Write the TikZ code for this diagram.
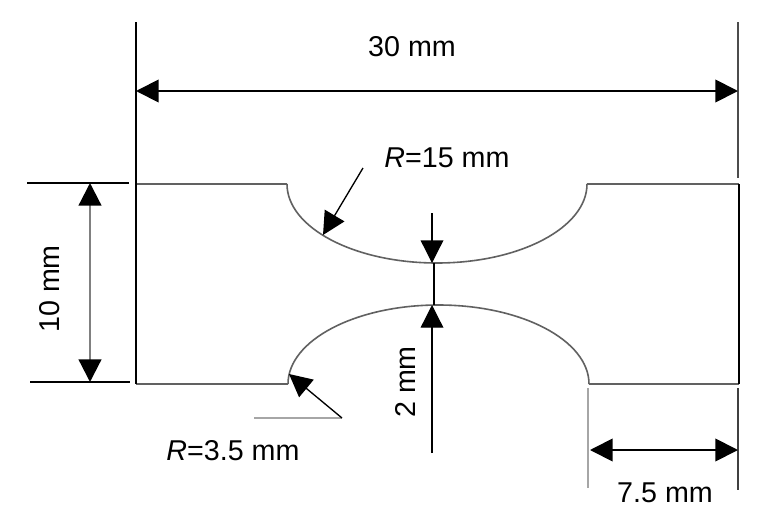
\documentclass[tikz,border=0pt]{standalone}
\usepackage{fontspec}
\setmainfont{Liberation Sans}
\usetikzlibrary{arrows.meta}
\tikzset{
  dimline/.style={line width=1.4pt,black,{Triangle[length=17pt,width=17pt]}-{Triangle[length=17pt,width=17pt]}},
  greydim/.style={line width=1.7pt,black!50,{Triangle[length=17pt,width=17pt,color=black]}-{Triangle[length=17pt,width=17pt,color=black]}},
  leader/.style={line width=1pt,black,-{Triangle[length=17pt,width=17pt]}},
  outline/.style={line width=1.2pt,black!62},
  extline/.style={line width=1.3pt,black},
  greyline/.style={line width=1.7pt,black!35},
  lbl/.style={inner sep=0pt,font=\fontsize{21.5pt}{25pt}\selectfont}
}
\begin{document}
\begin{tikzpicture}[x=0.75pt,y=-0.75pt]
\useasboundingbox (0,0) rectangle (768,518);
\fill[white] (0,0) rectangle (768,518);
% outline
\draw[outline] (136,184) -- (287,184);
\draw[outline] (587,184) -- (739,184);
\draw[outline,line width=1.7pt] (136,384) -- (288,384);
\draw[outline,line width=1.7pt] (589,384) -- (739,384);
\draw[extline] (136,22) -- (136,384);
\draw[extline,black!70] (738,22) -- (738,178);
\draw[extline] (739,184) -- (739,384);
\draw[outline] (287,184) arc[start angle=180,end angle=0,x radius=150,y radius=79];
\draw[outline] (288,384) arc[start angle=180,end angle=360,x radius=150.5,y radius=79];
% coordinates
\coordinate (wl) at (136,91); \coordinate (wr) at (738,91);
\coordinate (hTop) at (90,183); \coordinate (hBot) at (90,382);
\coordinate (r15a) at (363,168); \coordinate (r15b) at (323,235);
\coordinate (upA) at (432,213); \coordinate (upB) at (432,263);
\coordinate (loA) at (432,453); \coordinate (loB) at (432,305);
\coordinate (r35s) at (254,418); \coordinate (r35k) at (342,418); \coordinate (r35e) at (289,374);
\coordinate (sl) at (590,450); \coordinate (sr) at (738,450);
% extensions
\draw[extline] (27,183) -- (129,183);
\draw[extline] (30,382) -- (130,382);
\draw[greyline] (588,388) -- (588,488);
\draw[extline,black!75] (738,388) -- (738,490);
\draw[extline] (434,263) -- (434,305);
% dims
\draw[dimline] (wl) -- (wr);
\draw[greydim] (hTop) -- (hBot);
\draw[dimline] (sl) -- (sr);
\draw[leader] (r15a) -- (r15b);
\draw[leader] (upA) -- (upB);
\draw[leader] (loA) -- (loB);
\draw[greyline] (r35s) -- (r35k);
\draw[leader] (r35k) -- (r35e);
% labels
\node[lbl] (t30) at (412,47) {30 mm};
\node[lbl] (t10) at (50,289) [rotate=90] {10 mm};
\node[lbl] (t2) at (405,382) [rotate=90] {2 mm};
\node[lbl] (tr15) at (447,158) {\textit{R}=15 mm};
\node[lbl] (tr35) at (233,451) {\textit{R}=3.5 mm};
\node[lbl] (t75) at (665,493) {7.5 mm};
\end{tikzpicture}
\end{document}
